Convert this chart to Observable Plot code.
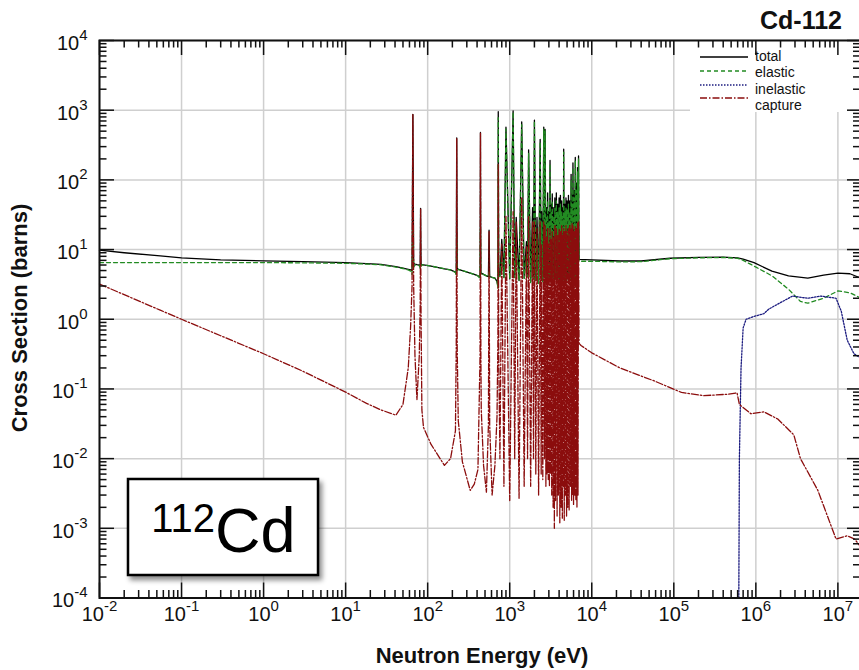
<!DOCTYPE html>
<html><head><meta charset="utf-8">
<script src="https://cdn.jsdelivr.net/npm/d3@7"></script>
<script src="https://cdn.jsdelivr.net/npm/@observablehq/plot@0.6"></script>
<style>
html,body{margin:0;padding:0;background:#fff;overflow:hidden;}
#chart{position:relative;width:859px;height:670px;overflow:hidden;}
#chart svg{max-width:none !important;}
</style></head><body><div id="chart"></div>
<script>
// ---------- data (energy in eV, cross sections in barns) ----------
const xTickExponents = [-2, -1, 0, 1, 2, 3, 4, 5, 6, 7];
const yTickExponents = [-4, -3, -2, -1, 0, 1, 2, 3, 4];
const minorMultipliers = [2, 3, 4, 5, 6, 7, 8, 9];
const seriesNames = ["total", "elastic", "inelastic", "capture"];

// resolved-region points away from resonance peaks: [E, total, elastic, capture]
const resolvedPts = [
  [0.01, 9.8, 6.5, 3.2], [0.02, 9.0, 6.5, 2.25], [0.055, 8.1, 6.5, 1.35], [0.1, 7.6, 6.5, 1.0],
  [0.3, 7.1, 6.5, 0.58], [1, 6.9, 6.5, 0.32], [3, 6.7, 6.45, 0.18], [10, 6.5, 6.35, 0.09],
  [18, 6.3, 6.2, 0.062], [27, 6.15, 6.05, 0.05], [41, 5.7, 5.6, 0.042], [50, 5.4, 5.35, 0.06],
  [58, 5.2, 5.1, 0.2], [62, 5.1, 4.9, 0.8], [64.5, 5.0, 4.4, 3.0], [67.5, 6.3, 5.6, 3.0],
  [70, 6.2, 6.0, 0.3], [74, 6.1, 6.05, 0.07], [79, 6.0, 5.9, 0.3], [81, 5.9, 5.4, 1.5],
  [83, 6.2, 5.8, 1.2], [85, 6.1, 6.05, 0.05], [89, 6.05, 6.0, 0.028], [110, 5.8, 5.8, 0.016],
  [160, 5.3, 5.3, 0.008], [190, 5.1, 5.1, 0.01], [218, 4.75, 4.7, 0.025], [223, 4.6, 4.2, 0.4],
  [229, 5.4, 5.0, 0.4], [236, 5.2, 5.2, 0.035], [265, 5.0, 5.0, 0.009], [330, 4.6, 4.6, 0.0035],
  [370, 4.4, 4.4, 0.0043], [410, 4.2, 4.2, 0.007], [435, 4.0, 3.8, 0.3], [445, 4.7, 4.4, 0.3],
  [450, 4.6, 4.6, 0.05], [480, 4.4, 4.4, 0.008], [520, 4.2, 4.2, 0.0033], [550, 4.1, 4.05, 0.03],
  [570, 4.1, 4.05, 0.03], [610, 4.0, 4.0, 0.003], [660, 3.9, 3.9, 0.008], [700, 3.5, 3.5, 0.04],
  [718, 3.0, 2.8, 0.5], [735, 4.5, 4.2, 0.3],
  [760, 4.2, 4.1, 0.01], [850, 4.0, 3.95, 0.004], [1000, 3.8, 3.75, 0.0025], [1150, 4.0, 3.95, 0.01],
  [1300, 3.6, 3.55, 0.0027], [1500, 3.9, 3.85, 0.004], [1650, 4.1, 4.05, 0.01], [1800, 3.4, 3.35, 0.004],
  [1950, 3.9, 3.85, 0.01], [2080, 3.6, 3.55, 0.006], [2250, 3.3, 3.25, 0.003], [2420, 3.8, 3.75, 0.006],
  [2530, 3.5, 3.45, 0.005], [2650, 4.0, 3.95, 0.01], [2760, 3.6, 3.55, 0.004], [2850, 3.9, 3.85, 0.006],
  [2950, 3.4, 3.35, 0.005], [3050, 3.8, 3.75, 0.004], [3150, 3.5, 3.45, 0.006], [3250, 3.7, 3.65, 0.003],
  [3380, 3.9, 3.85, 0.002], [3500, 3.4, 3.35, 0.001], [3620, 3.8, 3.75, 0.0025], [3780, 3.5, 3.45, 0.0015],
  [3920, 3.9, 3.85, 0.003], [4080, 3.4, 3.35, 0.0012], [4230, 3.8, 3.75, 0.002], [4380, 3.5, 3.45, 0.0014],
  [4500, 3.9, 3.85, 0.004], [4620, 3.4, 3.35, 0.0013], [4780, 3.8, 3.75, 0.003], [4930, 3.5, 3.45, 0.0015],
  [5100, 3.9, 3.85, 0.002], [5300, 3.4, 3.35, 0.0018], [5500, 3.8, 3.75, 0.004], [5680, 3.5, 3.45, 0.0025],
  [5830, 3.9, 3.85, 0.003], [6000, 3.4, 3.35, 0.0022], [6200, 3.8, 3.75, 0.003], [6400, 3.5, 3.45, 0.0025],
  [6600, 3.9, 3.85, 0.002], [6800, 3.6, 3.55, 0.003]
];

// resonance peaks: [E, total, elastic, capture]
const peaks = [
  [66, 870, 20, 860], [82, 39, 6, 38], [226, 400, 15, 390], [440, 480, 20, 470], [560, 19, 5, 18],
  [725, 950, 780, 170], [800, 14, 8, 12], [900, 570, 540, 30], [1100, 980, 940, 35], [1200, 29, 10, 25],
  [1400, 680, 620, 55], [1600, 13, 8, 11], [1700, 270, 240, 30], [1900, 40, 20, 25], [2000, 720, 700, 25],
  [2150, 29, 15, 20], [2350, 380, 350, 25], [2450, 35, 25, 12], [2600, 570, 540, 25], [2700, 530, 500, 22],
  [2800, 40, 30, 15], [2900, 65, 50, 20], [3000, 35, 25, 12], [3100, 190, 170, 20], [3200, 45, 35, 14],
  [3300, 63, 50, 18], [3450, 40, 30, 15], [3550, 55, 40, 22], [3700, 65, 50, 20], [3850, 45, 35, 16],
  [4000, 55, 40, 20], [4150, 60, 45, 18], [4300, 50, 35, 22], [4450, 40, 30, 16], [4550, 275, 250, 20],
  [4700, 45, 35, 18], [4850, 55, 40, 22], [5000, 50, 38, 18], [5200, 60, 45, 20], [5400, 50, 35, 22],
  [5600, 120, 100, 20], [5750, 60, 45, 24], [5900, 175, 150, 22], [6100, 70, 55, 18], [6300, 210, 190, 22],
  [6500, 90, 70, 20], [6700, 150, 130, 24], [6900, 220, 200, 25]
];

// smooth high-energy region: [E, barns]
const fastTotal = [
  [7000, 7.25], [1e4, 7.1], [2.2e4, 6.85], [4e4, 6.85], [9e4, 7.5], [2e5, 7.7], [4e5, 7.8], [6e5, 7.6],
  [7e5, 7.3], [9.5e5, 6.5], [1.57e6, 4.9], [2.5e6, 4.2], [4.3e6, 3.9], [6.7e6, 4.3], [1e7, 4.6],
  [1.4e7, 4.5], [2e7, 3.8]
];
const fastElastic = [
  [7000, 6.8], [1e4, 6.8], [2.2e4, 6.65], [4e4, 6.7], [9e4, 7.4], [2e5, 7.6], [4e5, 7.7], [6e5, 7.5],
  [7e5, 7.0], [9.5e5, 5.8], [1.57e6, 4.2], [2.5e6, 2.7], [3.5e6, 1.8], [4.3e6, 1.7], [6.7e6, 2.0],
  [1e7, 2.55], [1.4e7, 2.4], [2e7, 1.95]
];
const fastCapture = [
  [7000, 0.45], [7400, 0.42], [1e4, 0.33], [2.2e4, 0.2], [5.8e4, 0.13], [1.24e5, 0.089], [2.3e5, 0.08],
  [4.6e5, 0.084], [5.9e5, 0.088], [6.3e5, 0.06], [8.7e5, 0.044], [1.25e6, 0.047], [1.85e6, 0.037],
  [2.9e6, 0.022], [3.5e6, 0.01], [5.7e6, 0.0035], [9.5e6, 0.0007], [1.3e7, 0.00078], [1.6e7, 0.0007],
  [2e7, 0.0005]
];
const inelastic = [
  [6.2e5, 1e-4], [6.3e5, 0.01], [6.6e5, 0.2], [7.0e5, 0.75], [7.6e5, 1.0], [9.5e5, 1.1], [1.25e6, 1.2],
  [1.44e6, 1.4], [1.85e6, 1.65], [2.8e6, 2.15], [4.3e6, 2.0], [6.2e6, 2.15], [9.5e6, 2.0], [1.1e7, 1.3],
  [1.3e7, 0.5], [1.57e7, 0.32], [1.87e7, 0.28], [2e7, 0.27]
];

// ---------- build tables ----------
const resolved = [...resolvedPts, ...peaks].sort((a, b) => a[0] - b[0]);
const toRows = pairs => pairs.map(([E, xs]) => ({E, xs}));
const col = k => resolved.map(r => ({E: r[0], xs: r[k]}));
const totalData = col(1).concat(toRows(fastTotal));
const elasticData = col(2).concat(toRows(fastElastic));
const captureData = col(3).concat(toRows(fastCapture));
const inelasticData = toRows(inelastic);

const W = 862, H = 670, ML = 99, MR = 0, MT = 40, MB = 72.5;
const FW = W - ML - MR, FH = H - MT - MB;
const xMax = Math.pow(10, 7.3);
const pow10 = e => Math.pow(10, e);
const xMajor = xTickExponents.map(pow10);
const yMajor = yTickExponents.map(pow10);
const xMinor = xTickExponents.flatMap(e => minorMultipliers.map(m => m * pow10(e))).filter(v => v < xMax);
const yMinor = yTickExponents.slice(0, -1).flatMap(e => minorMultipliers.map(m => m * pow10(e)));
const expLabel = d => "10^" + Math.round(Math.log10(d));

const styles = {
  total: {stroke: "#000000", strokeWidth: 1.3},
  elastic: {stroke: "#228b22", strokeWidth: 1.3, strokeDasharray: "4,3"},
  inelastic: {stroke: "#1c1c80", strokeWidth: 1.3, strokeDasharray: "1.5,1.5"},
  capture: {stroke: "#8b0d0d", strokeWidth: 1.3, strokeDasharray: "7,2,1.5,2"}
};
const tickStyle = {stroke: "#111", strokeWidth: 1.5};

const svg = Plot.plot({
  width: W, height: H, marginLeft: ML, marginRight: MR, marginTop: MT, marginBottom: MB,
  style: {fontFamily: "'Liberation Sans', Arial, sans-serif", background: "white", overflow: "visible"},
  x: {type: "log", domain: [1e-2, xMax], axis: null},
  y: {type: "log", domain: [1e-4, 1e4], axis: null},
  marks: [
    Plot.ruleX(xMajor, {x: d => d, stroke: "#cfcfcf", strokeWidth: 1.5}),
    Plot.ruleY(yMajor, {y: d => d, stroke: "#cfcfcf", strokeWidth: 1.5}),
    Plot.line(totalData, {x: "E", y: "xs", ...styles.total}),
    Plot.line(elasticData, {x: "E", y: "xs", ...styles.elastic}),
    Plot.line(inelasticData, {x: "E", y: "xs", ...styles.inelastic}),
    Plot.line(captureData, {x: "E", y: "xs", ...styles.capture}),
    Plot.ruleX(xMajor, {x: d => d, insetTop: FH - 15, ...tickStyle}),
    Plot.ruleX(xMajor, {x: d => d, insetBottom: FH - 15, ...tickStyle}),
    Plot.ruleX(xMinor, {x: d => d, insetTop: FH - 7.5, ...tickStyle}),
    Plot.ruleX(xMinor, {x: d => d, insetBottom: FH - 7.5, ...tickStyle}),
    Plot.ruleY(yMajor, {y: d => d, insetRight: FW - 15, ...tickStyle}),
    Plot.ruleY(yMajor, {y: d => d, insetLeft: FW - 15, ...tickStyle}),
    Plot.ruleY(yMinor, {y: d => d, insetRight: FW - 7.5, ...tickStyle}),
    Plot.ruleY(yMinor, {y: d => d, insetLeft: FW - 9, ...tickStyle}),
    Plot.frame({stroke: "#111", strokeWidth: 2}),
    Plot.text(xMajor, {x: d => d, frameAnchor: "bottom", dy: 23, text: expLabel, fontSize: 20, fill: "#111"}),
    Plot.text(yMajor, {y: d => d, frameAnchor: "left", dx: -12, dy: 3, textAnchor: "end", text: expLabel, fontSize: 20, fill: "#111"})
  ]
});
svg.style.maxWidth = "none";
document.getElementById("chart").appendChild(svg);

// superscript exponents on the tick labels
svg.querySelectorAll("text").forEach(t => {
  if (!t.textContent.includes("^")) return;
  const [base, exp] = t.textContent.split("^");
  t.textContent = base;
  const ts = document.createElementNS("http://www.w3.org/2000/svg", "tspan");
  ts.setAttribute("dy", "-10");
  ts.setAttribute("font-size", "15");
  ts.textContent = exp;
  t.appendChild(ts);
});

const s = d3.select(svg);
const font = "'Liberation Sans', Arial, sans-serif";

// legend (white box beneath the tick marks)
const ruleGroups = svg.querySelectorAll('g[aria-label="rule"]');
const firstTickGroup = ruleGroups[2];
const box = document.createElementNS("http://www.w3.org/2000/svg", "rect");
box.setAttribute("x", 690); box.setAttribute("y", 41); box.setAttribute("width", 160); box.setAttribute("height", 71);
box.setAttribute("fill", "white");
firstTickGroup.parentNode.insertBefore(box, firstTickGroup);

const legendLineY = [57, 71, 85, 98];
const legendTextY = [60.5, 77, 93.5, 110];
const lg = s.append("g");
seriesNames.forEach((name, i) => {
  const st = styles[name];
  lg.append("line").attr("x1", 700).attr("x2", 748).attr("y1", legendLineY[i]).attr("y2", legendLineY[i])
    .attr("stroke", st.stroke).attr("stroke-width", st.strokeWidth)
    .attr("stroke-dasharray", st.strokeDasharray || null);
  lg.append("text").attr("x", 755).attr("y", legendTextY[i]).attr("font-size", 14)
    .attr("text-anchor", "start").attr("font-family", font).attr("fill", "#111").text(name);
});

// title
s.append("text").attr("x", 842).attr("y", 28.5).attr("text-anchor", "end")
  .attr("font-size", 25).attr("font-weight", "bold").attr("font-family", font).attr("fill", "#111").text("Cd-112");

// axis titles
s.append("text").attr("x", 482).attr("y", 663).attr("text-anchor", "middle")
  .attr("font-size", 22).attr("font-weight", "bold").attr("font-family", font).attr("fill", "#111")
  .text("Neutron Energy (eV)");
s.append("text").attr("transform", "translate(27,318) rotate(-90)").attr("text-anchor", "middle")
  .attr("font-size", 22).attr("font-weight", "bold").attr("font-family", font).attr("fill", "#111")
  .text("Cross Section (barns)");

// inset label box
const defs = s.append("defs");
const f = defs.append("filter").attr("id", "shadow").attr("x", "-10%").attr("y", "-10%").attr("width", "130%").attr("height", "140%");
f.append("feDropShadow").attr("dx", 3).attr("dy", 4).attr("stdDeviation", 2.5)
  .attr("flood-color", "#000").attr("flood-opacity", 0.45);
s.append("rect").attr("x", 128).attr("y", 479).attr("width", 190).attr("height", 96)
  .attr("fill", "white").attr("stroke", "#000").attr("stroke-width", 2.5).attr("filter", "url(#shadow)");
const lab = s.append("text").attr("x", 223.5).attr("y", 551.7).attr("text-anchor", "middle")
  .attr("font-family", font).attr("fill", "#000");
lab.append("tspan").attr("font-size", 40).attr("dy", -20).text("112");
lab.append("tspan").attr("font-size", 63).attr("dy", 20).text("Cd");
</script></body></html>
